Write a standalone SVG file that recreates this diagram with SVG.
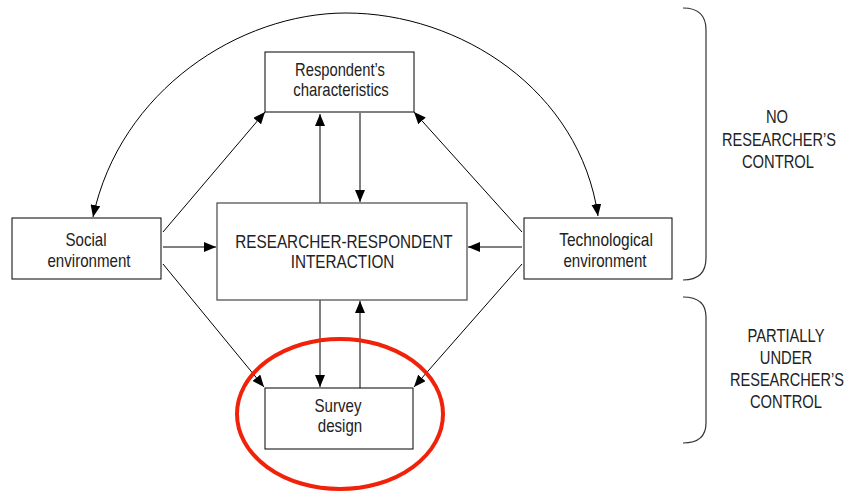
<svg xmlns="http://www.w3.org/2000/svg" width="848" height="492" viewBox="0 0 848 492">
  <defs>
    <marker id="ah" viewBox="0 0 12 10" refX="12" refY="5" markerWidth="12" markerHeight="10" markerUnits="userSpaceOnUse" orient="auto">
      <path d="M0,0 L12,5 L0,10 z" fill="#000"/>
    </marker>
    <style>
      .box { fill: #fff; stroke: #000; stroke-width: 1; }
      .mid { fill: #fff; stroke: #555; stroke-width: 1.3; }
      .lbl { font-family: "Liberation Sans", Arial, sans-serif; font-size: 18px; fill: #222; text-anchor: middle; }
      .con { fill: none; stroke: #000; stroke-width: 1; marker-end: url(#ah); }
      .brace { fill: none; stroke: #333; stroke-width: 1.2; }
    </style>
  </defs>
  <rect width="848" height="492" fill="#fff"/>

  <!-- connectors -->
  <g id="connectors">
    <path class="con" d="M346,13 C 240,13 120,90 93,217"/>
    <path class="con" d="M346,13 C 460,13 580,90 598,216"/>
    <line class="con" x1="320" y1="203" x2="320" y2="114"/>
    <line class="con" x1="360" y1="113" x2="360" y2="202"/>
    <line class="con" x1="320" y1="300" x2="320" y2="387"/>
    <line class="con" x1="360" y1="388" x2="360" y2="301"/>
    <line class="con" x1="163" y1="247" x2="216" y2="247"/>
    <line class="con" x1="522" y1="247" x2="468" y2="247"/>
    <line class="con" x1="163" y1="232" x2="265" y2="112"/>
    <line class="con" x1="522" y1="232" x2="414" y2="112"/>
    <line class="con" x1="163" y1="264" x2="264" y2="387"/>
    <line class="con" x1="522" y1="264" x2="414" y2="387"/>
  </g>

  <!-- labels use a horizontally condensed sans -->
  <g id="respondent">
    <rect class="box" x="265" y="52" width="149" height="60"/>
    <text class="lbl" transform="translate(340,76) scale(0.82,1)">Respondent’s</text>
    <text class="lbl" transform="translate(341,96) scale(0.83,1)">characteristics</text>
  </g>

  <g id="interaction">
    <rect class="mid" x="217" y="203" width="250" height="97"/>
    <text class="lbl" transform="translate(344,248) scale(0.85,1)">RESEARCHER-RESPONDENT</text>
    <text class="lbl" transform="translate(342.5,268) scale(0.85,1)">INTERACTION</text>
  </g>

  <g id="social">
    <rect class="box" x="12" y="218" width="149" height="61"/>
    <text class="lbl" transform="translate(86,246) scale(0.84,1)">Social</text>
    <text class="lbl" transform="translate(89,267) scale(0.84,1)">environment</text>
  </g>

  <g id="technological">
    <rect class="box" x="524" y="218" width="148" height="61"/>
    <text class="lbl" transform="translate(606,246) scale(0.86,1)">Technological</text>
    <text class="lbl" transform="translate(605,267) scale(0.84,1)">environment</text>
  </g>

  <g id="survey">
    <rect class="box" x="265" y="388" width="148" height="61"/>
    <text class="lbl" transform="translate(338,412) scale(0.84,1)">Survey</text>
    <text class="lbl" transform="translate(340,432) scale(0.84,1)">design</text>
    <ellipse cx="340" cy="414" rx="103" ry="75" fill="none" stroke="#f0220a" stroke-width="4"/>
  </g>

  <g id="no-control">
    <path class="brace" d="M683,8 Q706,8 706,30 L706,258 Q706,280 683,280"/>
    <text class="lbl" transform="translate(777,123) scale(0.82,1)">NO</text>
    <text class="lbl" transform="translate(779,145.5) scale(0.81,1)">RESEARCHER’S</text>
    <text class="lbl" transform="translate(778,167.5) scale(0.82,1)">CONTROL</text>
  </g>

  <g id="partial-control">
    <path class="brace" d="M683,297 Q706,297 706,317 L706,423 Q706,443 683,443"/>
    <text class="lbl" transform="translate(786,342) scale(0.82,1)">PARTIALLY</text>
    <text class="lbl" transform="translate(786,364) scale(0.82,1)">UNDER</text>
    <text class="lbl" transform="translate(787,386) scale(0.81,1)">RESEARCHER’S</text>
    <text class="lbl" transform="translate(786,408) scale(0.82,1)">CONTROL</text>
  </g>
</svg>
